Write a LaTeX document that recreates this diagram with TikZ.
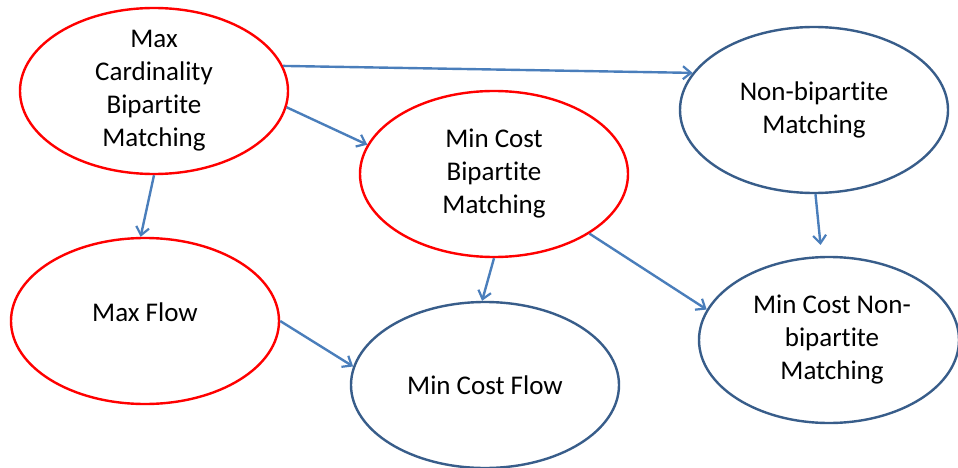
\documentclass[tikz,border=0pt]{standalone}
\usepackage{fontspec}
\setmainfont{Carlito}[Ligatures={NoCommon}]
\usetikzlibrary{shapes, arrows.meta, positioning}

\definecolor{ovalred}{RGB}{255, 0, 0}
\definecolor{ovalblue}{RGB}{56, 93, 138}
\definecolor{linkblue}{RGB}{74, 126, 187}

\tikzset{
  oval/.style={ellipse, line width=2.4pt, fill=white, inner sep=0pt,
    minimum width=268pt, minimum height=166pt},
  redoval/.style={oval, draw=ovalred},
  blueoval/.style={oval, draw=ovalblue},
  ovaltext/.style={align=center, inner sep=0pt, font=\fontsize{27}{33}\selectfont},
  link/.style={draw=linkblue, line width=2.4pt,
    -{Straight Barb[length=8pt, width=13pt, line width=2.2pt]}}
}

\begin{document}
\begin{tikzpicture}[x=1pt, y=-1pt]
  \useasboundingbox (0,0) rectangle (958,468);

  % Bipartite problems
  \node[redoval, label={[ovaltext]center:Max\\Cardinality\\Bipartite\\Matching}] (maxcard) at (154, 91) {};
  \node[redoval, label={[ovaltext]center:Min Cost\\Bipartite\\Matching}] (mincostbip) at (494, 174) {};
  \node[redoval, label={[ovaltext, yshift=9pt]center:Max Flow}] (maxflow) at (145, 321) {};

  % Harder problems
  \node[blueoval, label={[ovaltext]center:Non-bipartite\\Matching}] (nonbip) at (814, 110) {};
  \node[blueoval, label={[ovaltext]center:Min Cost Flow}] (mincostflow) at (485, 385) {};
  \node[blueoval, minimum width=260pt, label={[ovaltext, xshift=3pt]center:Min Cost Non-\\bipartite\\Matching}] (mincostnonbip) at (829, 340) {};

  % Reductions
  \draw[link] (maxcard.11.5) -- (nonbip.163.3);
  \draw[link] (maxcard.-7.7) -- (mincostbip.167.8);
  \draw[link] (maxcard.-90) -- (maxflow.93);
  \draw[link] (maxflow.-0.4) -- (mincostflow.172.3);
  \draw[link] (mincostbip.-90.7) -- (mincostflow.92);
  \draw[link] (mincostbip.-32.1) -- (mincostnonbip.166.5);
  \draw[link, shorten >=11pt] (nonbip.-89.5) -- (mincostnonbip.95);
\end{tikzpicture}
\end{document}
